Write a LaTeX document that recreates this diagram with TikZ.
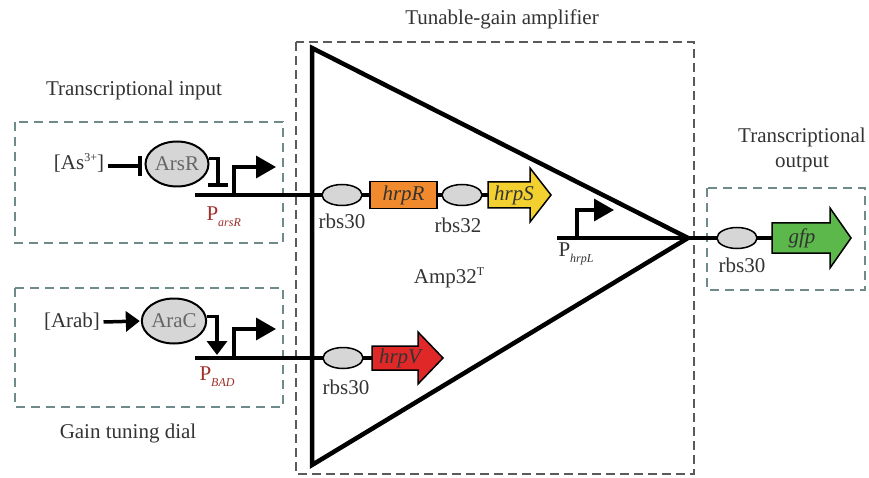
\documentclass[tikz,border=0pt]{standalone}
\usepackage{fontspec}
\setmainfont{Liberation Serif}
\usetikzlibrary{shapes.geometric,arrows.meta}
\definecolor{txt}{HTML}{333333}
\definecolor{boxteal}{HTML}{6E8A8A}
\definecolor{boxgray}{HTML}{5A5A5A}
\definecolor{ellgray}{HTML}{D6D6D6}
\definecolor{orangeR}{HTML}{F08A2C}
\definecolor{yellowS}{HTML}{F2D030}
\definecolor{redV}{HTML}{E02828}
\definecolor{greenG}{HTML}{5CB84A}
\definecolor{promred}{HTML}{A0302A}
\newcommand{\psub}[1]{\raisebox{-6pt}{\fontsize{12}{14}\selectfont\itshape #1}}
\newcommand{\psup}[1]{\raisebox{8pt}{\fontsize{12}{14}\selectfont #1}}
\begin{document}
\begin{tikzpicture}[x=1pt,y=-1pt,
  every node/.style={font=\fontsize{21}{25}\selectfont, text=txt},
  sidebox/.style={draw=boxteal, line width=2pt, dash pattern=on 9pt off 6pt},
  ampbox/.style={draw=boxgray, line width=2.5pt, dash pattern=on 9pt off 5pt},
  dna/.style={line width=3.5pt, draw=black},
  rbs/.style={ellipse, draw=black, line width=1.5pt, fill=ellgray, minimum width=40pt, minimum height=21pt, inner sep=0pt},
  tf/.style={ellipse, draw=black, line width=2pt, fill=ellgray, minimum width=63pt, minimum height=45pt, inner sep=0pt, text=black!60},
  gene/.style={draw=black, line width=1.5pt},
  genelabel/.style={font=\fontsize{21}{25}\selectfont\itshape, inner sep=0pt},
  prom/.style={line width=3.5pt, -{Triangle[length=20pt,width=22pt]}},
  act/.style={line width=3.5pt, -{Triangle[length=14pt,width=20pt]}},
  inh/.style={line width=3.5pt, -{Bar[width=20pt,line width=3.5pt]}},
  amp/.style={line width=4.5pt, line join=miter}
]
\useasboundingbox (0,0) rectangle (869,478);

% titles
\node (tamp) at (502,19) {Tunable-gain amplifier};
\node (tin) at (134,90) {Transcriptional input};
\node (tdial) at (128,433) {Gain tuning dial};
\node[align=center, font=\fontsize{21}{25}\selectfont] (tout) at (802,150) {Transcriptional\\output};

% dashed boxes
\draw[ampbox] (296,42) rectangle (694,474);
\draw[sidebox] (15,122) rectangle (283,243);
\draw[sidebox] (15,288) rectangle (283,407);
\draw[sidebox] (707,188) rectangle (865,290);

% amplifier triangle
\coordinate (triTop) at (312,48);
\coordinate (apex) at (688,238);
\coordinate (triBot) at (312,465);
\draw[amp] (triTop) -- (apex) -- (triBot) -- cycle;

% ---------- top branch: transcriptional input ----------
\coordinate (dnaAstart) at (195,195);
\coordinate (hrpStail) at (488,195);
\draw[dna] (dnaAstart) -- (hrpStail);
\node[rbs] (rbsA) at (342,195) {};
\node (rbsAlab) at (342,221) {rbs30};
\node[gene, fill=orangeR, minimum width=67pt, minimum height=27pt, inner sep=0pt, font=\fontsize{21}{25}\selectfont\itshape] (hrpR) at (403.5,195) {hrpR};
\node[rbs] (rbsB) at (462,195) {};
\node (rbsBlab) at (458,225) {rbs32};
\draw[gene, fill=yellowS] (488,182) -- (530,182) -- (530,168) -- (551,195) -- (530,222) -- (530,208) -- (488,208) -- cycle;
\node[genelabel] (hrpS) at (514,195) {hrpS};

\node (As) at (79,163) {[As\psup{3+}]};
\node[tf] (ArsR) at (177,164) {ArsR};
\draw[inh, shorten >=3pt] (As.east |- 0,166) -- (ArsR.west |- 0,166);
\coordinate (repA) at (218,187);
\draw[inh] (ArsR.10) -| (repA);
\coordinate (pAbase) at (234,195);
\coordinate (pAtip) at (276,167);
\draw[prom] (pAbase) |- (pAtip);
\node[text=promred, anchor=west] (PA) at (203,217) {P\psub{arsR}};

% ---------- bottom branch: gain tuning dial ----------
\coordinate (dnaBstart) at (195,358);
\coordinate (hrpVtail) at (372,358);
\draw[dna] (dnaBstart) -- (hrpVtail);
\node[rbs] (rbsC) at (343,358) {};
\node (rbsClab) at (346,387) {rbs30};
\draw[gene, fill=redV] (372,346) -- (418,346) -- (418,332) -- (443,358) -- (418,384) -- (418,370) -- (372,370) -- cycle;
\node[genelabel] (hrpV) at (400,358) {hrpV};

\node (Arab) at (72,322) {[Arab]};
\node[tf] (AraC) at (174,321) {AraC};
\draw[act, shorten >=1pt] (Arab.east) -- (AraC.west);
\coordinate (actB) at (217,355);
\draw[act] (AraC.8) -| (actB);
\coordinate (pBbase) at (234,358);
\coordinate (pBtip) at (276,329);
\draw[prom] (pBbase) |- (pBtip);
\node[text=promred, anchor=west] (PB) at (196,377) {P\psub{BAD}};

% ---------- amplifier output ----------
\coordinate (dnaCstart) at (557,238);
\coordinate (gfptail) at (772,238);
\draw[dna] (dnaCstart) -- (apex) -- (gfptail);
\coordinate (pCbase) at (577,238);
\coordinate (pCtip) at (614,210);
\draw[prom] (pCbase) |- (pCtip);
\node[anchor=west] (PC) at (555,254) {P\psub{hrpL}};
\node (ampname) at (449,278) {Amp32\psup{T}};

\node[rbs] (rbsD) at (737,238) {};
\node (rbsDlab) at (742,265) {rbs30};
\draw[gene, fill=greenG] (772,223) -- (830,223) -- (830,208) -- (851,238) -- (830,268) -- (830,253) -- (772,253) -- cycle;
\node[genelabel] (gfp) at (802,238) {gfp};
\end{tikzpicture}
\end{document}
